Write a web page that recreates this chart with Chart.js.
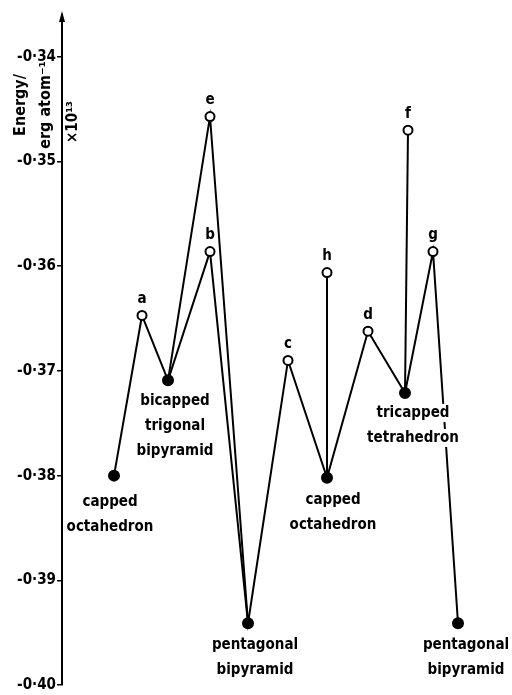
<!DOCTYPE html>
<html>
<head>
<meta charset="utf-8">
<script src="https://cdn.jsdelivr.net/npm/chart.js@4.4.0/dist/chart.umd.min.js"></script>
<style>
  html, body { margin: 0; padding: 0; background: #fff; }
  #wrap { width: 512px; height: 695px; }
</style>
</head>
<body>
<div id="wrap"><canvas id="energyChart"></canvas></div>
<script>
// structures along the rearrangement path (minima are named, saddle points lettered)
const names = ['capped octahedron', 'a', 'bicapped trigonal bipyramid', 'e', 'b',
  'pentagonal bipyramid', 'c', 'capped octahedron', 'h', 'd',
  'tricapped tetrahedron', 'f', 'g', 'pentagonal bipyramid'];
const coordinate = [1.3, 2.0, 2.65, 3.7, 3.7, 4.65, 5.65, 6.625, 6.625, 7.65, 8.575, 8.65, 9.275, 9.9];
const energy = [-0.3800, -0.3647, -0.3709, -0.3457, -0.3586, -0.3941, -0.3690,
  -0.3802, -0.3606, -0.3662, -0.3721, -0.3470, -0.3586, -0.3941];
const isMinimum = [true, false, true, false, false, true, false, true, false, false, true, false, false, true];
// connections, as indices into the lists above
const paths = [
  [0, 1, 2, 4, 5, 6, 7, 9, 10, 12, 13],
  [2, 3, 5],
  [7, 8],
  [10, 11]
];
const yTicks = [-0.34, -0.35, -0.36, -0.37, -0.38, -0.39, -0.40];

const FONT = '"DejaVu Sans Condensed", "DejaVu Sans", sans-serif';

const pt = i => ({ x: coordinate[i], y: energy[i] });

const lineSets = paths.map(p => ({
  data: p.map(pt),
  showLine: true,
  borderColor: '#000',
  borderWidth: 2,
  pointRadius: 0,
  tension: 0,
  order: 2
}));

const pointSet = {
  data: names.map((n, i) => pt(i)),
  showLine: false,
  pointRadius: isMinimum.map(m => m ? 5 : 4.5),
  pointBackgroundColor: isMinimum.map(m => m ? '#000' : '#fff'),
  pointBorderColor: '#000',
  pointBorderWidth: 2,
  order: 1
};

// label placement relative to the point (pixels)
const nameOffset = {
  0: [-4, 26], 2: [7, 21], 5: [7, 22], 7: [6, 22], 10: [8, 20], 13: [8, 22]
};

const annotate = {
  id: 'annotate',
  afterDatasetsDraw(chart) {
    const ctx = chart.ctx;
    const xs = chart.scales.x, ys = chart.scales.y;
    ctx.save();
    ctx.textAlign = 'center';
    ctx.textBaseline = 'middle';
    ctx.font = 'bold 15px ' + FONT;
    names.forEach((n, i) => {
      const px = xs.getPixelForValue(coordinate[i]);
      const py = ys.getPixelForValue(energy[i]);
      if (isMinimum[i]) {
        const off = nameOffset[i];
        n.split(' ').forEach((ln, k) => {
          const y = py + off[1] + k * 25;
          const w = ctx.measureText(ln).width;
          ctx.fillStyle = '#fff';
          ctx.fillRect(px + off[0] - w / 2 - 2, y - 9, w + 4, 18);
          ctx.fillStyle = '#000';
          ctx.fillText(ln, px + off[0], y);
        });
      } else {
        ctx.fillStyle = '#000';
        ctx.fillText(n, px, py - 16);
      }
    });
    ctx.restore();
  },
  afterDraw(chart) {
    const ctx = chart.ctx;
    const a = chart.chartArea;
    ctx.save();
    // arrow head on the energy axis
    ctx.fillStyle = '#000';
    ctx.beginPath();
    ctx.moveTo(a.left, a.top - 4);
    ctx.lineTo(a.left - 3, a.top + 7);
    ctx.lineTo(a.left + 3, a.top + 7);
    ctx.closePath();
    ctx.fill();
    // axis title
    ctx.textAlign = 'center';
    ctx.textBaseline = 'middle';
    const t = [['Energy/', 21, 105, 16], ['erg atom\u207B\u00B9', 46, 105, 16], ['\u00D710\u00B9\u00B3', 73, 122, 15]];
    t.forEach(([s, x, y, size]) => {
      ctx.font = 'bold ' + size + 'px ' + FONT;
      ctx.save();
      ctx.translate(x, y);
      ctx.rotate(-Math.PI / 2);
      ctx.fillText(s, 0, 0);
      ctx.restore();
    });
    ctx.restore();
  }
};

new Chart(document.getElementById('energyChart'), {
  type: 'scatter',
  data: { datasets: [...lineSets, pointSet] },
  options: {
    animation: false,
    responsive: true,
    maintainAspectRatio: false,
    devicePixelRatio: 1,
    layout: { autoPadding: false, padding: { top: 15, bottom: 4, left: 0, right: 0 } },
    plugins: { legend: { display: false }, tooltip: { enabled: false } },
    scales: {
      x: { type: 'linear', min: 0, max: 11.25, display: false },
      y: {
        type: 'linear',
        min: -0.40,
        max: -0.336,
        afterBuildTicks: s => { s.ticks = yTicks.map(v => ({ value: v })); },
        afterFit: s => { s.width = 62; },
        ticks: {
          color: '#000',
          padding: 1,
          font: { family: FONT, size: 15, weight: 'bold' },
          callback: v => '-0\u00B7' + String(Math.round(-v * 100))
        },
        grid: { drawOnChartArea: false, drawTicks: true, tickLength: 5, color: '#000', lineWidth: 1.5 },
        border: { display: true, color: '#000', width: 2 }
      }
    }
  },
  plugins: [annotate]
});
</script>
</body>
</html>
